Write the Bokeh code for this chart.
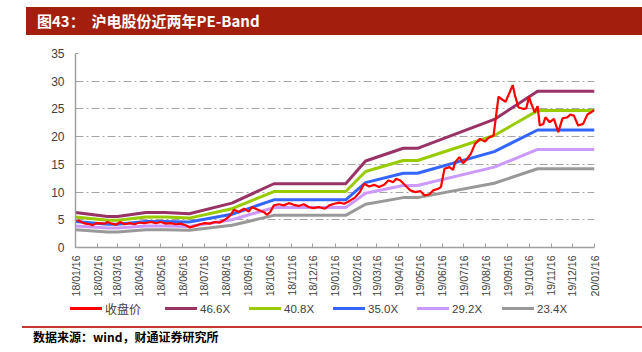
import math
import pandas as pd
from bokeh.plotting import figure
from bokeh.layouts import column
from bokeh.models import (ColumnDataSource, FixedTicker, DatetimeTickFormatter, Range1d, Div)
from bokeh.embed import file_html
from bokeh.resources import INLINE

# ---------------- data ----------------
tick_dates = ["2018-01-16", "2018-02-16", "2018-03-16", "2018-04-16", "2018-05-16",
              "2018-06-16", "2018-07-16", "2018-08-16", "2018-09-16", "2018-10-16",
              "2018-11-16", "2018-12-16", "2019-01-16", "2019-02-16", "2019-03-16",
              "2019-04-16", "2019-05-16", "2019-06-16", "2019-07-16", "2019-08-16",
              "2019-09-16", "2019-10-16", "2019-11-16", "2019-12-16", "2020-01-16"]
y_ticks = [0, 5, 10, 15, 20, 25, 30, 35]

band_dates = ["2018-01-16", "2018-03-02", "2018-03-16", "2018-04-25", "2018-05-22",
              "2018-06-25", "2018-08-24", "2018-10-22", "2019-01-31", "2019-02-28",
              "2019-04-22", "2019-05-12", "2019-08-28", "2019-10-28", "2020-01-16"]
band_466 = [6.3, 5.6, 5.6, 6.3, 6.3, 6.1, 8.0, 11.5, 11.5, 15.6, 17.9, 17.9, 23.1, 28.2, 28.2]
band_408 = [5.5, 4.9, 4.9, 5.5, 5.5, 5.3, 7.0, 10.1, 10.1, 13.7, 15.7, 15.7, 20.2, 24.7, 24.7]
band_350 = [4.7, 4.2, 4.2, 4.7, 4.7, 4.6, 6.0, 8.6, 8.6, 11.7, 13.4, 13.4, 17.3, 21.2, 21.2]
band_292 = [3.9, 3.5, 3.5, 3.9, 3.9, 3.8, 5.0, 7.2, 7.2, 9.8, 11.2, 11.2, 14.5, 17.7, 17.7]
band_234 = [3.2, 2.8, 2.8, 3.2, 3.2, 3.1, 4.0, 5.8, 5.8, 7.8, 9.0, 9.0, 11.6, 14.2, 14.2]

price_dates = [
    "2018-01-16", "2018-01-19", "2018-01-24", "2018-01-30", "2018-02-05", "2018-02-09",
    "2018-02-14", "2018-02-26", "2018-03-02", "2018-03-08", "2018-03-14", "2018-03-20",
    "2018-03-26", "2018-04-02", "2018-04-09", "2018-04-16", "2018-04-23", "2018-05-02",
    "2018-05-09", "2018-05-16", "2018-05-23", "2018-05-30", "2018-06-06", "2018-06-13",
    "2018-06-20", "2018-06-26", "2018-07-03", "2018-07-10", "2018-07-17", "2018-07-24",
    "2018-07-31", "2018-08-07", "2018-08-14", "2018-08-21", "2018-08-27", "2018-09-03",
    "2018-09-10", "2018-09-17", "2018-09-21", "2018-09-28", "2018-10-09", "2018-10-12",
    "2018-10-17", "2018-10-22", "2018-10-29", "2018-11-05", "2018-11-12", "2018-11-19",
    "2018-11-26", "2018-12-03", "2018-12-10", "2018-12-17", "2018-12-24", "2019-01-02",
    "2019-01-08", "2019-01-15", "2019-01-22", "2019-01-29", "2019-02-04", "2019-02-13",
    "2019-02-20", "2019-02-26", "2019-03-05", "2019-03-12", "2019-03-19", "2019-03-26",
    "2019-04-01", "2019-04-08", "2019-04-12", "2019-04-18", "2019-04-25", "2019-05-02",
    "2019-05-09", "2019-05-16", "2019-05-22", "2019-05-29", "2019-06-03", "2019-06-10",
    "2019-06-14", "2019-06-19", "2019-06-26", "2019-07-01", "2019-07-04", "2019-07-10",
    "2019-07-15", "2019-07-19", "2019-07-26", "2019-08-01", "2019-08-08", "2019-08-15",
    "2019-08-20", "2019-08-27", "2019-08-30", "2019-09-03", "2019-09-09", "2019-09-13",
    "2019-09-18", "2019-09-23", "2019-09-26", "2019-10-01", "2019-10-08", "2019-10-12",
    "2019-10-16", "2019-10-18", "2019-10-22", "2019-10-24", "2019-10-28", "2019-10-31",
    "2019-11-05", "2019-11-08", "2019-11-14", "2019-11-20", "2019-11-26", "2019-12-02",
    "2019-12-09", "2019-12-13", "2019-12-18", "2019-12-24", "2019-12-31", "2020-01-06",
    "2020-01-10", "2020-01-16"]
price = [
    4.9, 5.0, 4.6, 4.3, 4.2, 4.0,
    4.4, 4.3, 4.6, 4.3, 4.1, 4.6,
    4.2, 4.4, 4.2, 4.5, 4.4, 4.6,
    4.4, 4.6, 4.3, 4.4, 4.2, 4.3,
    4.0, 3.6, 3.9, 4.2, 4.4, 4.3,
    4.6, 4.5, 5.0, 5.7, 6.8, 6.4,
    7.0, 6.5, 7.3, 6.9, 6.3, 5.9,
    6.4, 7.6, 7.8, 7.6, 8.0, 7.7,
    7.5, 7.8, 7.3, 7.1, 7.3, 7.0,
    7.6, 7.9, 8.1, 7.9, 8.3, 9.0,
    10.0, 11.5, 11.0, 11.3, 10.9, 11.3,
    12.1, 11.8, 12.4, 12.1, 11.2, 10.3,
    10.0, 10.2, 9.4, 9.6, 10.3, 10.6,
    10.9, 14.2, 14.5, 14.0, 15.4, 16.3,
    15.2, 15.7, 16.9, 18.7, 19.6, 19.1,
    19.8, 20.2, 23.2, 27.2, 26.6, 26.3,
    27.8, 29.3, 27.5, 25.3, 25.0, 25.1,
    27.2, 26.3, 25.0, 24.4, 25.5, 22.0,
    22.3, 23.5, 22.6, 23.2, 20.8, 23.3,
    23.5, 24.0, 23.8, 22.0, 22.3, 24.0,
    24.3, 24.8]

series_names = ["收盘价", "46.6X", "40.8X", "35.0X", "29.2X", "23.4X"]
series_colors = ["#ff0000", "#993366", "#99cc00", "#3366ff", "#cc99ff", "#999999"]

title_text = "图43：&nbsp;&nbsp;沪电股份近两年PE-Band"
source_text = "数据来源：wind，财通证券研究所"

W = 642
H_TOP, H_MAIN, H_BOT = 40, 260, 52
CJK = "'Noto Sans CJK SC', sans-serif"
LAT = "Liberation Sans, Arial, sans-serif"


def ms(d):
    return (pd.Timestamp(d) - pd.Timestamp("1970-01-01")) / pd.Timedelta(milliseconds=1)


# ---------------- title bar (HTML) ----------------
top_html = (
    f'<div style="position:relative;width:{W}px;height:{H_TOP}px;margin:0;padding:0;">'
    '<div style="position:absolute;left:26px;top:7px;width:616px;height:28px;background:#a31f0b;"></div>'
    f'<div style="position:absolute;left:37px;top:7px;height:28px;line-height:28px;color:#ffffff;'
    f'font-family:{CJK};font-weight:bold;font-size:15px;white-space:nowrap;">{title_text}</div>'
    '</div>')
top = Div(text=top_html, width=W, height=H_TOP, margin=0)

# ---------------- main chart ----------------
p = figure(width=W, height=H_MAIN, x_axis_type="datetime", output_backend="svg",
           toolbar_location=None,
           x_range=Range1d(ms(tick_dates[0]), ms(tick_dates[-1])),
           y_range=Range1d(0, 35),
           min_border_left=75, min_border_right=48, min_border_top=13, min_border_bottom=53)
p.outline_line_color = None
p.background_fill_color = "white"
p.border_fill_color = "white"

band_src = ColumnDataSource(dict(x=pd.to_datetime(band_dates), b466=band_466, b408=band_408,
                                 b350=band_350, b292=band_292, b234=band_234))
price_src = ColumnDataSource(dict(x=pd.to_datetime(price_dates), y=price))

for key, col in zip(["b466", "b408", "b350", "b292", "b234"], series_colors[1:]):
    p.line("x", key, source=band_src, line_color=col, line_width=3)
p.line("x", "y", source=price_src, line_color=series_colors[0], line_width=2.2)

p.xaxis.ticker = FixedTicker(ticks=[ms(d) for d in tick_dates])
fmt = "%y/%m/%d"
p.xaxis.formatter = DatetimeTickFormatter(milliseconds=fmt, seconds=fmt, minsec=fmt, minutes=fmt,
                                          hourmin=fmt, hours=fmt, days=fmt, months=fmt, years=fmt)
p.xaxis.major_label_orientation = math.pi / 2
p.xaxis.major_label_text_font = LAT
p.xaxis.major_label_text_font_size = "10.5px"
p.xaxis.major_label_text_color = "#404040"
p.xaxis.major_tick_in = 4
p.xaxis.major_tick_out = 0
p.xaxis.minor_tick_line_color = None
p.xaxis.axis_line_color = "#a0a0a0"
p.xaxis.axis_line_width = 1.5
p.xaxis.major_tick_line_color = "#a0a0a0"
p.xaxis.major_label_standoff = 8

p.yaxis.ticker = FixedTicker(ticks=y_ticks)
p.yaxis.major_label_text_font = LAT
p.yaxis.major_label_text_font_size = "12px"
p.yaxis.major_label_text_color = "#404040"
p.yaxis.major_tick_in = 3
p.yaxis.major_tick_out = 0
p.yaxis.minor_tick_line_color = None
p.yaxis.axis_line_color = "#a0a0a0"
p.yaxis.axis_line_width = 1.5
p.yaxis.major_tick_line_color = "#a0a0a0"
p.yaxis.major_label_standoff = 11

p.xgrid.grid_line_color = None
p.ygrid.grid_line_color = "#a6a6a6"
p.ygrid.grid_line_dash = "8 3 2 3"
p.ygrid.grid_line_width = 1

# ---------------- legend + source (HTML) ----------------
legend_x = [70, 165, 249, 333, 417, 502]
parts = [f'<div style="position:relative;width:{W}px;height:{H_BOT}px;margin:0;padding:0;">']
for name, col, lx in zip(series_names, series_colors, legend_x):
    fnt = CJK if not name[0].isdigit() else LAT
    fs = "12px" if fnt == CJK else "11.5px"
    parts.append(f'<div style="position:absolute;left:{lx}px;top:7px;width:32px;height:3px;'
                 f'background:{col};"></div>')
    parts.append(f'<div style="position:absolute;left:{lx + 35}px;top:1px;height:16px;line-height:16px;'
                 f'font-family:{fnt};font-size:{fs};color:#404040;white-space:nowrap;">{name}</div>')
parts.append(f'<div style="position:absolute;left:22px;top:26px;width:{W - 22}px;height:1.5px;'
             'background:#c8372d;"></div>')
parts.append(f'<div style="position:absolute;left:33px;top:29px;height:16px;line-height:16px;'
             f'font-family:{CJK};font-weight:bold;font-size:12px;color:#000000;white-space:nowrap;">'
             f'{source_text}</div>')
parts.append('</div>')
bot = Div(text="".join(parts), width=W, height=H_BOT, margin=0)

layout = column(top, p, bot, spacing=0)
open("out.html", "w").write(file_html(layout, INLINE))
